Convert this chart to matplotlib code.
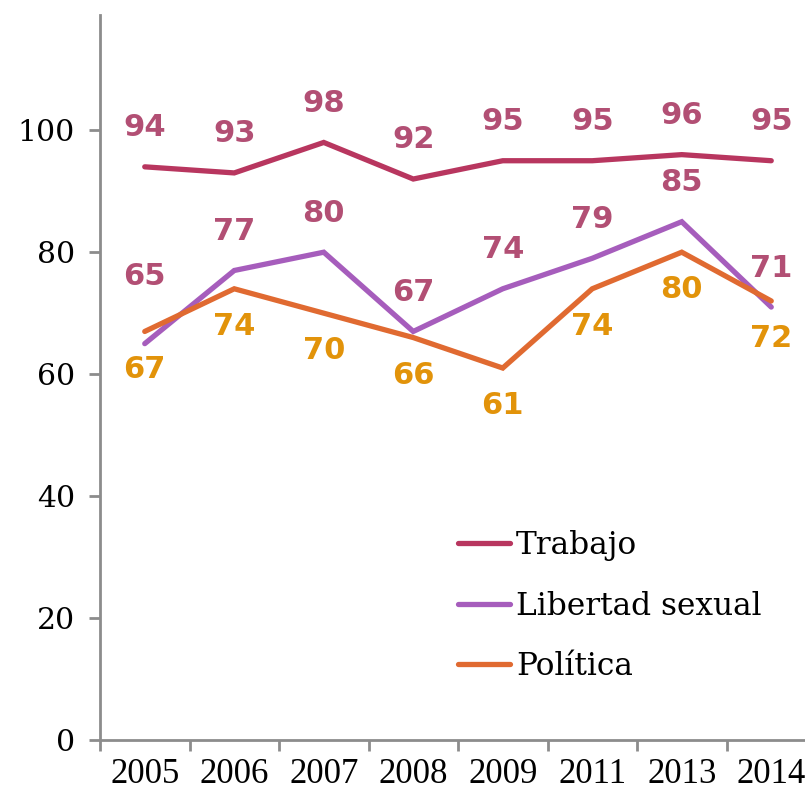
import matplotlib
matplotlib.use("Agg")
import matplotlib.pyplot as plt
import numpy as np

years = ["2005", "2006", "2007", "2008", "2009", "2011", "2013", "2014"]
trabajo = [94, 93, 98, 92, 95, 95, 96, 95]
libertad = [65, 77, 80, 67, 74, 79, 85, 71]
politica = [67, 74, 70, 66, 61, 74, 80, 72]
yticks = [0, 20, 40, 60, 80, 100]

c_trab = "#B8365F"
c_lib = "#A65DBC"
c_pol = "#E06A31"
c_lab_rose = "#B24F74"
c_lab_gold = "#E2930A"
spine_c = "#8C8C8C"

W, H = 805, 790
fig = plt.figure(figsize=(W / 100, H / 100), dpi=100)
ax = fig.add_axes([100 / W, 50 / H, 716 / W, 725 / H])

x = np.arange(len(years))
ax.plot(x, trabajo, color=c_trab, lw=3.8, label="Trabajo", solid_capstyle="round", solid_joinstyle="miter")
ax.plot(x, libertad, color=c_lib, lw=3.8, label="Libertad sexual", solid_capstyle="round", solid_joinstyle="miter")
ax.plot(x, politica, color=c_pol, lw=3.8, label="Política", solid_capstyle="round", solid_joinstyle="miter")

lab_font = dict(family="DejaVu Sans", weight="bold", fontsize=22, ha="center", va="center")
for i, v in enumerate(trabajo):
    ax.text(x[i], v + 6.4, str(v), color=c_lab_rose, **lab_font)
for i, v in enumerate(libertad):
    off = 11.0 if i == 0 else 6.4
    ax.text(x[i], v + off, str(v), color=c_lab_rose, **lab_font)
for i, v in enumerate(politica):
    ax.text(x[i], v - 6.2, str(v), color=c_lab_gold, **lab_font)

ax.set_xlim(-0.5, 7.5)
ax.set_ylim(0, 118.9)
ax.set_yticks(yticks)
ax.set_yticklabels([str(t) for t in yticks], family="DejaVu Serif", fontsize=21.5)
ax.set_xticks(x)
ax.set_xticklabels(years, family="Liberation Serif", fontsize=25)
ax.set_xticks(np.arange(-0.5, 8.0, 1.0), minor=True)
ax.tick_params(axis="x", which="major", length=0, pad=13)
ax.tick_params(axis="x", which="minor", length=8, width=2, color=spine_c, direction="out")
ax.tick_params(axis="y", which="major", length=8, width=2, color=spine_c, direction="out", pad=10)

for s in ["top", "right"]:
    ax.spines[s].set_visible(False)
for s in ["left", "bottom"]:
    ax.spines[s].set_color(spine_c)
    ax.spines[s].set_linewidth(2)

leg = fig.legend(loc="upper left", bbox_to_anchor=(458 / W, 1 - 530 / H), frameon=False,
                 prop=dict(family="DejaVu Serif", size=22.5), handlelength=1.65,
                 handletextpad=0.2, labelspacing=0.95, borderpad=0, borderaxespad=0)

fig.savefig("out.png", dpi=100)
